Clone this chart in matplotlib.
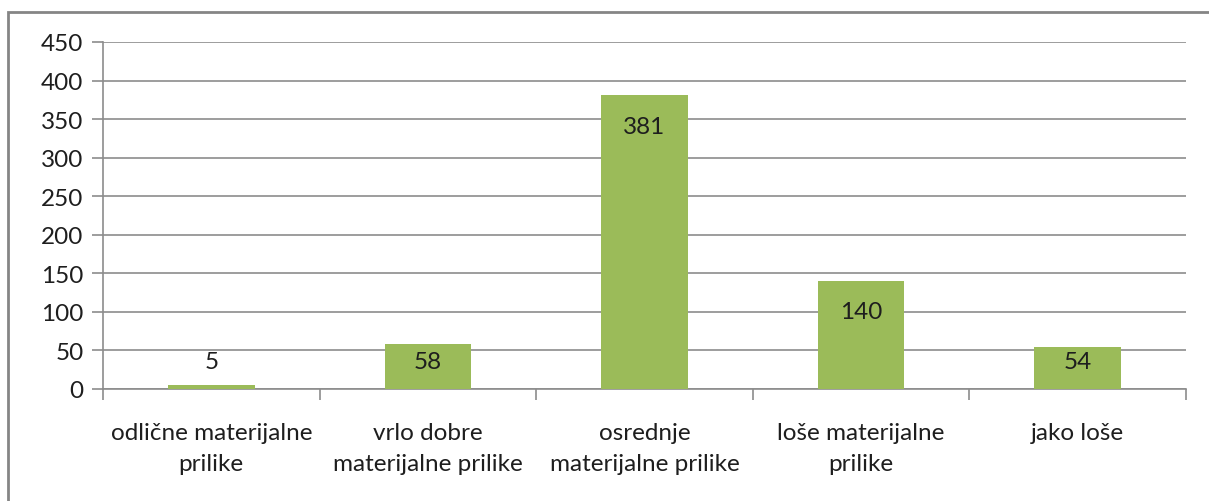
import matplotlib
matplotlib.use("Agg")
import matplotlib.pyplot as plt
from matplotlib.patches import Rectangle

categories = ["odlične materijalne\nprilike", "vrlo dobre\nmaterijalne prilike",
              "osrednje\nmaterijalne prilike", "loše materijalne\nprilike", "jako loše"]
values = [5, 58, 381, 140, 54]
yticks = [0, 50, 100, 150, 200, 250, 300, 350, 400, 450]

plt.rcParams['font.family'] = ['Lato', 'DejaVu Sans']
FS = 17.5
GRAY = "#8c8c8c"
GREEN = "#9BBB59"
TXT = "#1e1e1e"

fig = plt.figure(figsize=(12.09, 5.02), dpi=100)
W, H = 1209, 502
ax = fig.add_axes([103 / W, (H - 390) / H, (1186 - 103) / W, (390 - 43) / H])

x = list(range(len(values)))
ax.bar(x, values, width=0.4, color=GREEN, zorder=3)
ax.set_xlim(-0.5, len(values) - 0.5)
ax.set_ylim(0, 450)
ax.set_yticks(yticks)
ax.set_yticklabels([str(t) for t in yticks], fontsize=FS, color=TXT)
ax.yaxis.grid(True, color=GRAY, linewidth=1.2, zorder=0)
ax.tick_params(axis='y', length=8, width=1.2, color=GRAY, pad=6)

# x axis: ticks at category boundaries, labels at centers
ax.set_xticks([i - 0.5 for i in range(len(values) + 1)])
ax.set_xticklabels([])
ax.tick_params(axis='x', length=8, width=1.2, color=GRAY)
ax.set_xticks(x, minor=True)
ax.set_xticklabels(categories, minor=True, fontsize=FS, color=TXT, linespacing=1.55)
ax.tick_params(axis='x', which='minor', length=0, pad=24)

for s in ['top', 'right']:
    ax.spines[s].set_visible(False)
for s in ['left', 'bottom']:
    ax.spines[s].set_color(GRAY)
    ax.spines[s].set_linewidth(1.2)

# value labels: inside end, clamped near base for short bars
for xi, v in zip(x, values):
    yc = max(v - 40, 36)
    ax.text(xi, yc, str(v), ha='center', va='center', fontsize=FS, color=TXT, zorder=4)

# outer chart border
fig.patches.append(Rectangle((8 / W, -0.1), 1.2, (H - 13) / H + 0.1,
                             transform=fig.transFigure, fill=False,
                             edgecolor="#858585", linewidth=2))

fig.savefig("out.png", dpi=100)
